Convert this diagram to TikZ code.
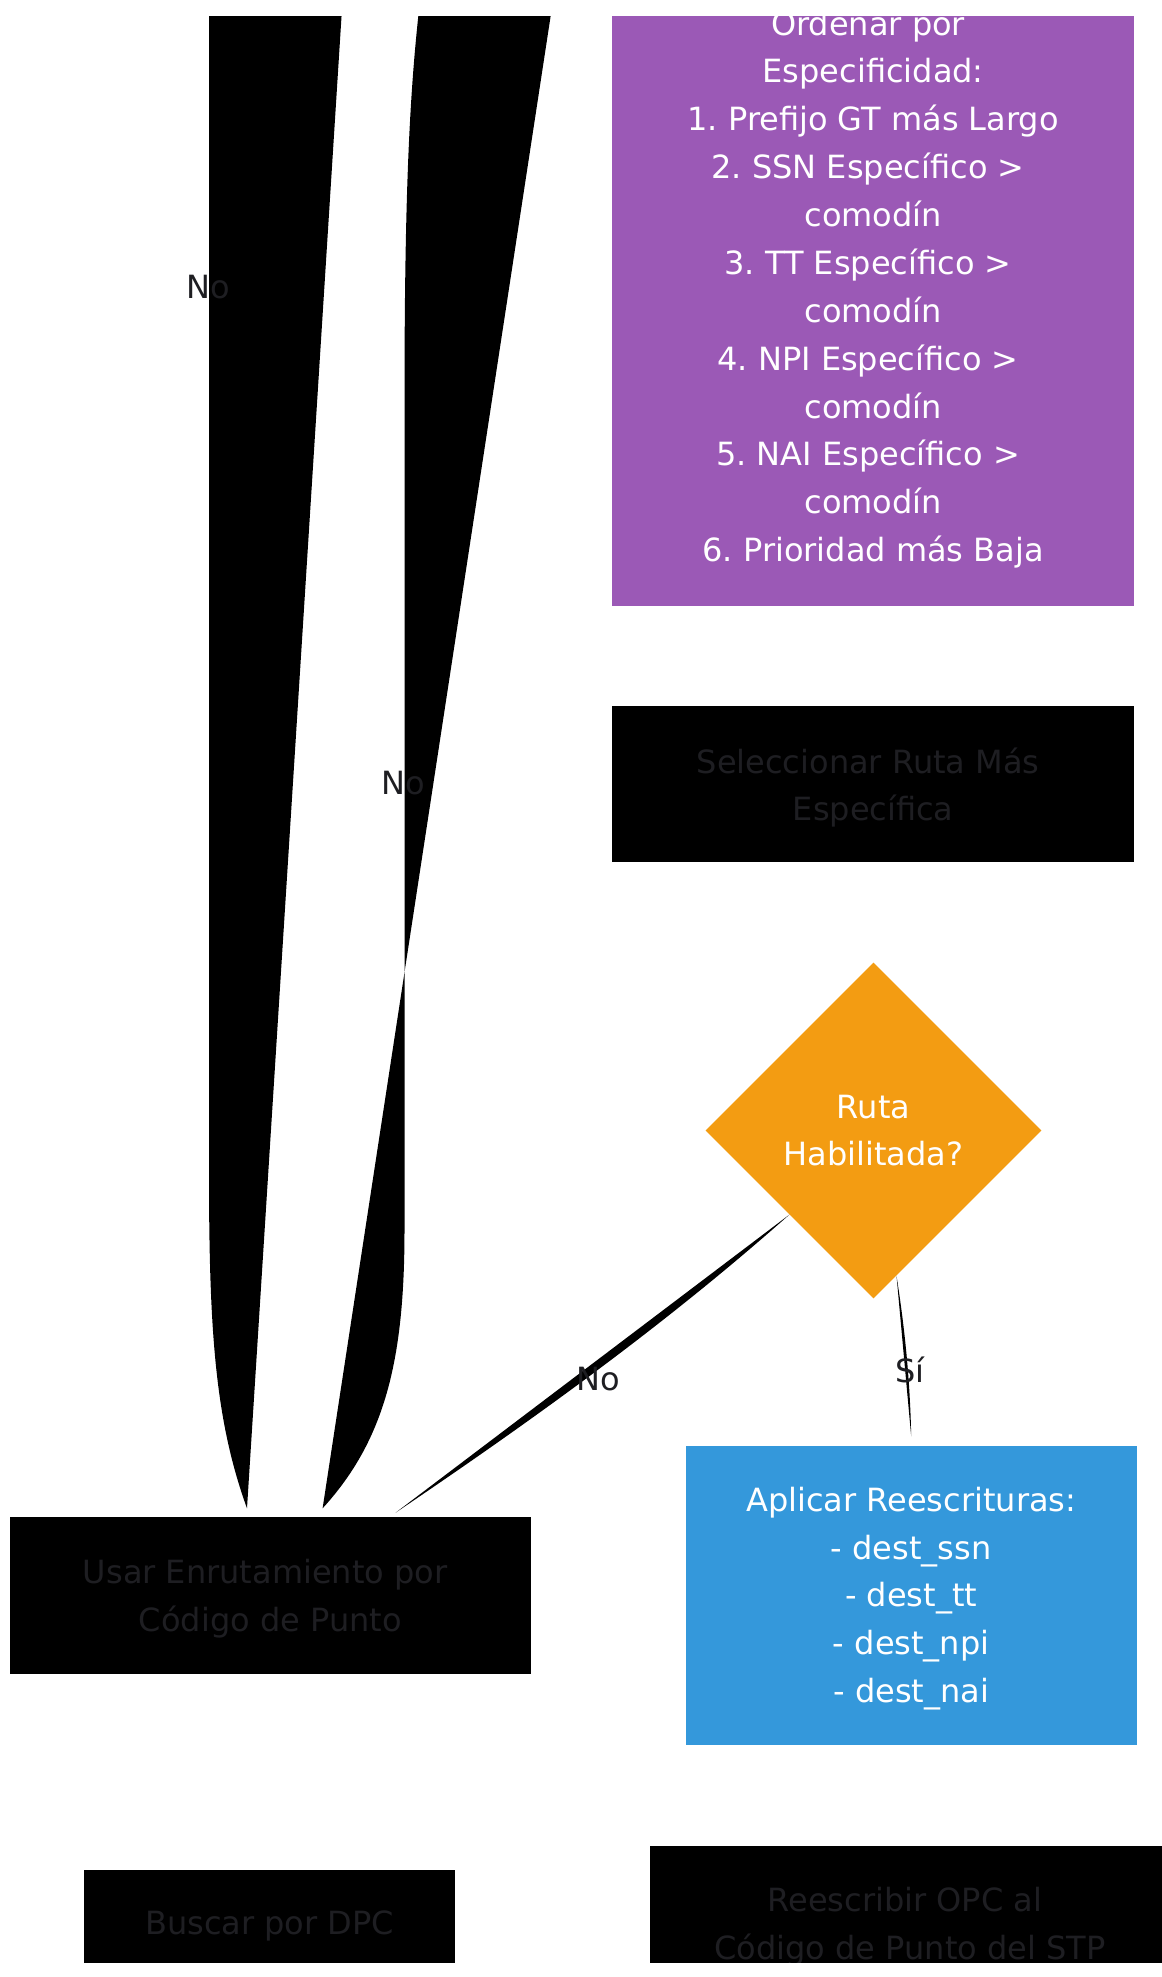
\documentclass[tikz,border=0pt]{standalone}
\usepackage{fontspec}
\setmainfont{DejaVu Sans}
\usetikzlibrary{shapes.geometric,calc}
\definecolor{purp}{HTML}{9B59B6}
\definecolor{orng}{HTML}{F39C12}
\definecolor{blu}{HTML}{3498DB}
\definecolor{dtext}{RGB}{30,30,34}
\newcommand{\tsp}{\ \null}
\begin{document}
\frenchspacing
\begin{tikzpicture}[x=0.75pt,y=-0.75pt,
 txt/.style={font=\fontsize{24}{35.9}\selectfont, align=center, inner sep=0pt},
 box/.style={rectangle, draw=none, inner sep=0pt},
 darkbox/.style={box, fill=black},
 darktext/.style={txt, text=dtext},
 whitetext/.style={txt, text=white},
 lbl/.style={font=\fontsize{24}{35.9}\selectfont, text=dtext, inner sep=0pt},
 conn/.style={fill=black}]
\useasboundingbox (0,0) rectangle (1162,1977);
\fill[white] (0,0) rectangle (1162,1977);
\clip (0,16.4) rectangle (1162,1962.5);
% boxes
\node[box, fill=purp, minimum width=391.1pt, minimum height=480pt] (sort) at (873.2,286) {};
\node[whitetext] (sortT) at ($(sort.center)+(0,3.5)$)
 {Ordenar por\tsp\\Especificidad:\\1. Prefijo GT más Largo\\2. SSN Específico >\tsp\\comodín\\3. TT Específico >\tsp\\comodín\\4. NPI Específico >\tsp\\comodín\\5. NAI Específico >\tsp\\comodín\\6. Prioridad más Baja};
\node[darkbox, minimum width=391.1pt, minimum height=117pt] (sel) at (873.2,784) {};
\node[darktext] (selT) at ($(sel.center)+(0,3.5)$) {Seleccionar Ruta Más\tsp\\Específica};
\node[txt, shape=diamond, fill=orng, text=white, minimum width=252pt, minimum height=252pt] (dec) at (873.5,1130.5) {Ruta\\Habilitada?};
\node[box, fill=blu, minimum width=338.4pt, minimum height=224.9pt] (apply) at (911.2,1595.5) {};
\node[whitetext] (applyT) at ($(apply.center)+(0,3)$)
 {Aplicar Reescrituras:\\- dest\_ssn\\- dest\_tt\\- dest\_npi\\- dest\_nai};
\node[darkbox, minimum width=390.5pt, minimum height=117.2pt] (usar) at (270.3,1595.5) {};
\node[darktext] (usarT) at ($(usar.center)+(0,3.5)$) {Usar Enrutamiento por\tsp\\Código de Punto};
\node[darkbox, minimum width=278pt, minimum height=78pt] (buscar) at (269.7,1922) {};
\node[darktext] (buscarT) at ($(buscar.center)+(0,3.5)$) {Buscar por DPC};
\node[darkbox, minimum width=390pt, minimum height=115.5pt] (reesc) at (910,1923) {};
\node[darktext] (reescT) at ($(reesc.center)+(0,3.5)$) {Reescribir OPC al\tsp\\Código de Punto del STP};
% connector end points
\coordinate (endA) at (405.9,-1000);
\coordinate (endB) at (705.9,-1000);
\coordinate (tipA) at ($(usar.north)+(-23.3,-8.8)$);
\coordinate (tipB) at ($(usar.north)+(52.3,-8.8)$);
\coordinate (tipC) at ($(usar.north)+(125.4,-4.5)$);
\coordinate (tipD) at ($(apply.north)+(0,-9)$);
% connectors
\fill[conn] (tipA) .. controls (215,1420) and (209,1330) .. (209,1172) -- (209,-700) .. controls (209,-900) and (300,-980) .. (endA) -- cycle;
\fill[conn] (tipB) .. controls (385,1440) and (404.5,1360) .. (404.5,1230) -- (404.5,400) .. controls (404.5,150) and (412,60) .. (425,-40) .. controls (480,-450) and (600,-800) .. (endB) -- cycle;
\fill[conn] (dec.south west) .. controls (665,1325) and (531.8,1420.6) .. (tipC) -- cycle;
\fill[conn] (dec.-81.4) .. controls (905,1330) and (910,1380) .. (tipD) -- cycle;
% labels
\node[lbl] (l1) at (208,287) {No};
\node[lbl] (l2) at (403,782.6) {No};
\node[lbl] (l3) at (598.6,1378.8) {No};
\node[lbl] (l4) at (910,1370) {Sí};
\end{tikzpicture}
\end{document}
